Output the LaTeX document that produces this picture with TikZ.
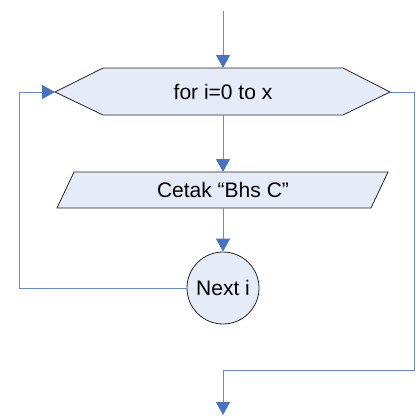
\documentclass[tikz,border=0pt]{standalone}
\usepackage{fontspec}
\setmainfont{Liberation Sans}
\usetikzlibrary{arrows.meta}
\definecolor{lineblue}{RGB}{103,141,205}
\definecolor{tipblue}{RGB}{70,115,196}
\definecolor{boxfill}{RGB}{230,236,247}
\tikzset{
  shapebox/.style={draw=black!85, fill=boxfill, line width=0.8pt},
  conn/.style={draw=lineblue, line width=1pt},
  arr/.style={conn, -{Triangle[length=13pt,width=14pt,color=tipblue]}},
  lbl/.style={font=\fontsize{21}{25}\selectfont, inner sep=0pt},
}
\begin{document}
\begin{tikzpicture}[x=1pt,y=-1pt]
\useasboundingbox (0,0) rectangle (419,415);
% hexagon (for loop)
\path[shapebox] (55,92) -- (103,68) -- (343,68) -- (390,92) -- (343,115) -- (103,115) -- cycle;
\node[lbl] (loop) at (223,92) {for i=0 to x};
\coordinate (loopT) at (223,68);
\coordinate (loopB) at (223,115);
\coordinate (loopL) at (55,92);
\coordinate (loopR) at (390,92);
% parallelogram (output)
\path[shapebox] (74,172) -- (388,172) -- (371,208) -- (57,208) -- cycle;
\node[lbl] (cetak) at (223,190) {Cetak “Bhs C”};
\coordinate (cetakT) at (223,172);
\coordinate (cetakB) at (223,208);
% circle (next)
\node[shapebox, circle, minimum size=72pt, inner sep=0pt, lbl, draw=black!85, fill=boxfill, line width=0.8pt] (next) at (223,288) {Next i};
% connectors
\coordinate (start) at (223,11);
\coordinate (endp) at (223,415);
\coordinate (leftc) at (19,288);
\coordinate (rightc) at (414,370);
\draw[arr] (start) -- (loopT);
\draw[arr] (loopB) -- (cetakT);
\draw[arr] (cetakB) -- (next.north);
\draw[arr] (next.west) -- (leftc) |- (loopL);
\draw[arr] (loopR) -| (rightc) -| (endp);
\end{tikzpicture}
\end{document}
